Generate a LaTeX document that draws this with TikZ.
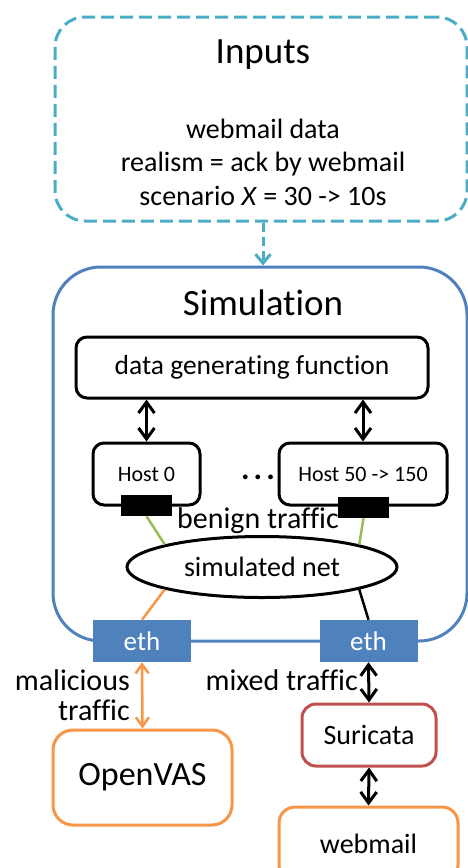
\documentclass[tikz,border=0pt]{standalone}
\usepackage{fontspec}
\setmainfont{Carlito}[Ligatures=NoCommon]
\usetikzlibrary{arrows.meta,shapes.geometric,calc}
\definecolor{cteal}{HTML}{4BACC6}
\definecolor{cblue}{HTML}{4F81BD}
\definecolor{corange}{HTML}{F79646}
\definecolor{cred}{HTML}{C0504D}
\definecolor{cgreen}{HTML}{9BBB59}
\newcommand{\fs}[1]{\fontsize{#1}{#1}\selectfont}
\begin{document}
\begin{tikzpicture}[x=1pt,y=-1pt,
  box/.style={draw,line width=3pt,rounded corners=11pt,inner sep=0pt,align=center},
  portbox/.style={fill=black,draw=none,minimum width=51pt,minimum height=21pt,inner sep=0pt},
  ethbox/.style={fill=cblue,draw=none,text=white,minimum width=98pt,minimum height=42pt,inner sep=0pt,font=\fs{27}},
  dbl/.style={line width=3pt,{Straight Barb[length=11pt,width=16pt]}-{Straight Barb[length=11pt,width=16pt]}},
  odbl/.style={line width=2.5pt,corange,{Straight Barb[length=9pt,width=13pt]}-{Straight Barb[length=9pt,width=13pt]}},
  lbl/.style={inner sep=0pt,font=\fs{30}}]
\useasboundingbox (0,0) rectangle (468,868);
% Inputs
\node[draw=cteal,line width=3pt,dash pattern=on 13pt off 6pt,rounded corners=30pt,minimum width=412pt,minimum height=204pt,inner sep=0pt] (inputs) at (261,119) {};
\node[inner sep=0pt,font=\fs{37}] (intitle) at (263,55) {Inputs};
\node[inner sep=0pt,align=center,font=\fontsize{28}{33.5}\selectfont] (intext) at (263,162) {webmail data\\realism = ack by webmail\\scenario \textit{X} = 30 -> 10s};
% Simulation
\node[draw=cblue,line width=3pt,rounded corners=48pt,minimum width=414pt,minimum height=374pt,inner sep=0pt] (sim) at (260,454) {};
\node[inner sep=0pt,font=\fs{37}] (simtitle) at (263,303) {Simulation};
\draw[cteal,line width=3pt,dash pattern=on 9pt off 5pt,-{Straight Barb[length=9pt,width=15pt]}] (inputs.south -| simtitle) -- (sim.north -| simtitle);
% data generating function
\node[box,minimum width=352pt,minimum height=61pt,font=\fs{27.5}] (dgf) at (252,367.5) {\raisebox{-3pt}{data generating function}};
\node[box,minimum width=107pt,minimum height=62pt,font=\fs{22}] (host0) at (146.5,474) {\raisebox{-3pt}{Host 0}};
\node[box,minimum width=168pt,minimum height=62pt,font=\fs{22}] (host1) at (363,474) {\raisebox{-3pt}{Host 50 -> 150}};
\node[inner sep=0pt,font=\fs{32}\bfseries] (dots) at (258,477) {.\hspace{4pt}.\hspace{4pt}.};
\draw[dbl] (host0.north |- dgf.south) -- (host0.north);
\draw[dbl] (host1.north |- dgf.south) -- (host1.north);
\node[portbox] (p0) at (146.5,505.5) {};
\node[portbox] (p1) at (363.5,507.5) {};
% simulated net
\node[draw,ellipse,line width=3pt,minimum width=270pt,minimum height=61pt,inner sep=0pt,font=\fs{28}] (net) at (262,567) {simulated net};
\node[lbl] (benign) at (258,521) {benign traffic};
\draw[cgreen,line width=2.5pt] (p0.south) -- (net.167);
\draw[cgreen,line width=2.5pt] (p1.south) -- (net.13);
% eth
\node[ethbox] (ethL) at (142,641) {eth};
\node[ethbox] (ethR) at (368.5,641) {eth};
\draw[corange,line width=2.5pt] (net.193) -- (ethL.north);
\draw[black,line width=2.5pt] (net.347) -- (ethR.north);
% bottom boxes
\node[box,draw=corange,rounded corners=20pt,minimum width=179pt,minimum height=95pt,font=\fs{34}] (ovas) at (142.5,777.5) {OpenVAS};
\node[box,draw=cred,rounded corners=14pt,minimum width=134pt,minimum height=62pt,font=\fs{28}] (suri) at (369,735) {Suricata};
\node[box,draw=corange,rounded corners=16pt,minimum width=179pt,minimum height=74pt,font=\fs{28}] (web) at (368.5,844) {webmail};
\draw[odbl] (ethL.south) -- (ovas.north);
\draw[dbl] (ethR.south) -- (suri.north);
\draw[dbl] (suri.south) -- (web.north);
\node[lbl,align=right,anchor=east] (mal) at (130,695) {malicious\\traffic};
\node[lbl,anchor=east] (mixed) at (358,680) {mixed traffic};
\end{tikzpicture}
\end{document}
